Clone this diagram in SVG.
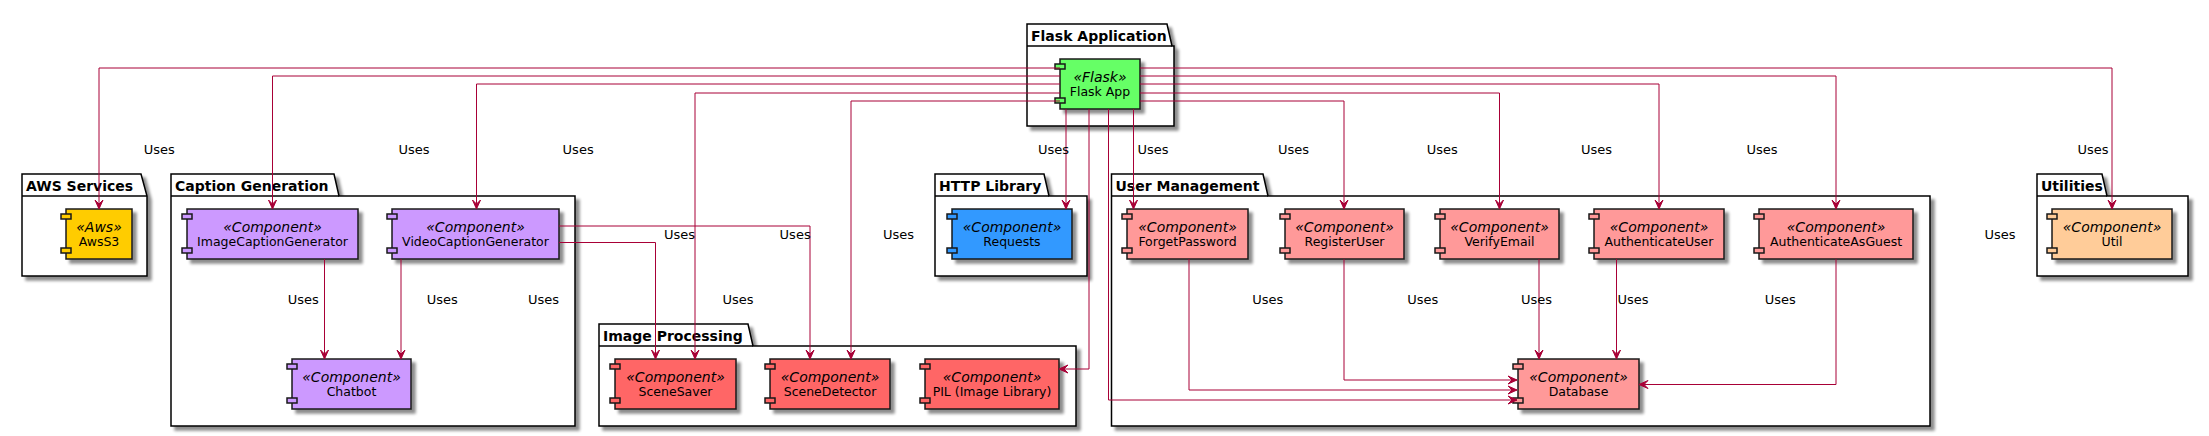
<svg xmlns="http://www.w3.org/2000/svg" width="2209" height="436" viewBox="0 0 2209 436">
<style>
text{font-family:"DejaVu Sans","Liberation Sans",sans-serif;fill:#000}
.pk{fill:#FFFFFF;stroke:#000;stroke-width:1.5}
.pt{font-size:14px;font-weight:bold}
.cb{stroke:#181818;stroke-width:1.5}
.port{stroke:#181818;stroke-width:1.5}
.st{font-size:14px;font-style:italic}
.nm{font-size:12.5px}
.lb{font-size:13px}
.cn path{fill:none;stroke:#A80036;stroke-width:1}
.g{fill:#66FF66}.y{fill:#FFCC00}.v{fill:#CC99FF}.b{fill:#3399FF}.r{fill:#FF6666}.p{fill:#FF9999}.o{fill:#FFCC99}
</style>
<defs>
<filter id="sh" x="-20%" y="-20%" width="150%" height="160%">
<feGaussianBlur in="SourceAlpha" stdDeviation="1.8" result="bl"/>
<feOffset in="bl" dx="4" dy="4" result="of"/>
<feComponentTransfer in="of" result="sd"><feFuncA type="linear" slope="0.45"/></feComponentTransfer>
<feMerge><feMergeNode in="sd"/><feMergeNode in="SourceGraphic"/></feMerge>
</filter>
<marker id="ah" viewBox="-10 -5 11 10" refX="0" refY="0" markerWidth="11" markerHeight="10" orient="auto" markerUnits="userSpaceOnUse">
<path d="M0,0 L-9,-4 L-5,0 L-9,4 Z" fill="#A80036" stroke="#A80036" stroke-width="1"/>
</marker>
</defs>
<rect width="2209" height="436" fill="#FFFFFF"/>

<g id="pkg-flask">
<path class="pk" filter="url(#sh)" d="M1027,24 L1167,24 L1172,46 L1174,46 L1174,126 L1027,126 Z"/>
<line x1="1027" y1="46" x2="1172" y2="46" stroke="#000" stroke-width="1.5"/>
<text class="pt" x="1031" y="41">Flask Application</text>
</g>
<g id="pkg-aws">
<path class="pk" filter="url(#sh)" d="M22,174 L141,174 L147,196 L147,196 L147,276 L22,276 Z"/>
<line x1="22" y1="196" x2="147" y2="196" stroke="#000" stroke-width="1.5"/>
<text class="pt" x="26" y="191">AWS Services</text>
</g>
<g id="pkg-caption">
<path class="pk" filter="url(#sh)" d="M171,174 L334,174 L339,196 L575,196 L575,426 L171,426 Z"/>
<line x1="171" y1="196" x2="339" y2="196" stroke="#000" stroke-width="1.5"/>
<text class="pt" x="175" y="191">Caption Generation</text>
</g>
<g id="pkg-image">
<path class="pk" filter="url(#sh)" d="M599,324 L748,324 L753,346 L1076,346 L1076,426 L599,426 Z"/>
<line x1="599" y1="346" x2="753" y2="346" stroke="#000" stroke-width="1.5"/>
<text class="pt" x="603" y="341">Image Processing</text>
</g>
<g id="pkg-http">
<path class="pk" filter="url(#sh)" d="M935,174 L1044,174 L1049,196 L1087,196 L1087,276 L935,276 Z"/>
<line x1="935" y1="196" x2="1049" y2="196" stroke="#000" stroke-width="1.5"/>
<text class="pt" x="939" y="191">HTTP Library</text>
</g>
<g id="pkg-user">
<path class="pk" filter="url(#sh)" d="M1111.5,174 L1263,174 L1268,196 L1930,196 L1930,426 L1111.5,426 Z"/>
<line x1="1111.5" y1="196" x2="1268" y2="196" stroke="#000" stroke-width="1.5"/>
<text class="pt" x="1115.5" y="191">User Management</text>
</g>
<g id="pkg-util">
<path class="pk" filter="url(#sh)" d="M2037,174 L2102,174 L2107,196 L2188,196 L2188,276 L2037,276 Z"/>
<line x1="2037" y1="196" x2="2107" y2="196" stroke="#000" stroke-width="1.5"/>
<text class="pt" x="2041" y="191">Utilities</text>
</g>

<g id="flaskapp">
<rect class="cb g" filter="url(#sh)" x="1060" y="59" width="80" height="50"/>
<rect class="port g" x="1055" y="64" width="10" height="5"/>
<rect class="port g" x="1055" y="98" width="10" height="5"/>
<text class="st" x="1100" y="81.5" text-anchor="middle">«Flask»</text>
<text class="nm" x="1100" y="96" text-anchor="middle">Flask App</text>
</g>
<g id="awss3">
<rect class="cb y" filter="url(#sh)" x="66" y="209" width="66" height="50"/>
<rect class="port y" x="61" y="214" width="10" height="5"/>
<rect class="port y" x="61" y="248" width="10" height="5"/>
<text class="st" x="99" y="231.5" text-anchor="middle">«Aws»</text>
<text class="nm" x="99" y="246" text-anchor="middle">AwsS3</text>
</g>
<g id="imagecaptiongenerator">
<rect class="cb v" filter="url(#sh)" x="187" y="209" width="171" height="50"/>
<rect class="port v" x="182" y="214" width="10" height="5"/>
<rect class="port v" x="182" y="248" width="10" height="5"/>
<text class="st" x="272.5" y="231.5" text-anchor="middle">«Component»</text>
<text class="nm" x="272.5" y="246" text-anchor="middle">ImageCaptionGenerator</text>
</g>
<g id="videocaptiongenerator">
<rect class="cb v" filter="url(#sh)" x="392" y="209" width="167" height="50"/>
<rect class="port v" x="387" y="214" width="10" height="5"/>
<rect class="port v" x="387" y="248" width="10" height="5"/>
<text class="st" x="475.5" y="231.5" text-anchor="middle">«Component»</text>
<text class="nm" x="475.5" y="246" text-anchor="middle">VideoCaptionGenerator</text>
</g>
<g id="chatbot">
<rect class="cb v" filter="url(#sh)" x="292" y="359" width="119" height="50"/>
<rect class="port v" x="287" y="364" width="10" height="5"/>
<rect class="port v" x="287" y="398" width="10" height="5"/>
<text class="st" x="351.5" y="381.5" text-anchor="middle">«Component»</text>
<text class="nm" x="351.5" y="396" text-anchor="middle">Chatbot</text>
</g>
<g id="scenesaver">
<rect class="cb r" filter="url(#sh)" x="615" y="359" width="121" height="50"/>
<rect class="port r" x="610" y="364" width="10" height="5"/>
<rect class="port r" x="610" y="398" width="10" height="5"/>
<text class="st" x="675.5" y="381.5" text-anchor="middle">«Component»</text>
<text class="nm" x="675.5" y="396" text-anchor="middle">SceneSaver</text>
</g>
<g id="scenedetector">
<rect class="cb r" filter="url(#sh)" x="770" y="359" width="120" height="50"/>
<rect class="port r" x="765" y="364" width="10" height="5"/>
<rect class="port r" x="765" y="398" width="10" height="5"/>
<text class="st" x="830" y="381.5" text-anchor="middle">«Component»</text>
<text class="nm" x="830" y="396" text-anchor="middle">SceneDetector</text>
</g>
<g id="pil">
<rect class="cb r" filter="url(#sh)" x="925" y="359" width="134" height="50"/>
<rect class="port r" x="920" y="364" width="10" height="5"/>
<rect class="port r" x="920" y="398" width="10" height="5"/>
<text class="st" x="992" y="381.5" text-anchor="middle">«Component»</text>
<text class="nm" x="992" y="396" text-anchor="middle">PIL (Image Library)</text>
</g>
<g id="requests">
<rect class="cb b" filter="url(#sh)" x="952" y="209" width="120" height="50"/>
<rect class="port b" x="947" y="214" width="10" height="5"/>
<rect class="port b" x="947" y="248" width="10" height="5"/>
<text class="st" x="1012" y="231.5" text-anchor="middle">«Component»</text>
<text class="nm" x="1012" y="246" text-anchor="middle">Requests</text>
</g>
<g id="forgetpassword">
<rect class="cb p" filter="url(#sh)" x="1127" y="209" width="121" height="50"/>
<rect class="port p" x="1122" y="214" width="10" height="5"/>
<rect class="port p" x="1122" y="248" width="10" height="5"/>
<text class="st" x="1187.5" y="231.5" text-anchor="middle">«Component»</text>
<text class="nm" x="1187.5" y="246" text-anchor="middle">ForgetPassword</text>
</g>
<g id="registeruser">
<rect class="cb p" filter="url(#sh)" x="1285" y="209" width="119" height="50"/>
<rect class="port p" x="1280" y="214" width="10" height="5"/>
<rect class="port p" x="1280" y="248" width="10" height="5"/>
<text class="st" x="1344.5" y="231.5" text-anchor="middle">«Component»</text>
<text class="nm" x="1344.5" y="246" text-anchor="middle">RegisterUser</text>
</g>
<g id="verifyemail">
<rect class="cb p" filter="url(#sh)" x="1440" y="209" width="119" height="50"/>
<rect class="port p" x="1435" y="214" width="10" height="5"/>
<rect class="port p" x="1435" y="248" width="10" height="5"/>
<text class="st" x="1499.5" y="231.5" text-anchor="middle">«Component»</text>
<text class="nm" x="1499.5" y="246" text-anchor="middle">VerifyEmail</text>
</g>
<g id="authenticateuser">
<rect class="cb p" filter="url(#sh)" x="1594" y="209" width="130" height="50"/>
<rect class="port p" x="1589" y="214" width="10" height="5"/>
<rect class="port p" x="1589" y="248" width="10" height="5"/>
<text class="st" x="1659" y="231.5" text-anchor="middle">«Component»</text>
<text class="nm" x="1659" y="246" text-anchor="middle">AuthenticateUser</text>
</g>
<g id="authenticateasguest">
<rect class="cb p" filter="url(#sh)" x="1759" y="209" width="154" height="50"/>
<rect class="port p" x="1754" y="214" width="10" height="5"/>
<rect class="port p" x="1754" y="248" width="10" height="5"/>
<text class="st" x="1836" y="231.5" text-anchor="middle">«Component»</text>
<text class="nm" x="1836" y="246" text-anchor="middle">AuthenticateAsGuest</text>
</g>
<g id="database">
<rect class="cb p" filter="url(#sh)" x="1518" y="359" width="121" height="50"/>
<rect class="port p" x="1513" y="364" width="10" height="5"/>
<rect class="port p" x="1513" y="398" width="10" height="5"/>
<text class="st" x="1578.5" y="381.5" text-anchor="middle">«Component»</text>
<text class="nm" x="1578.5" y="396" text-anchor="middle">Database</text>
</g>
<g id="util">
<rect class="cb o" filter="url(#sh)" x="2052" y="209" width="120" height="50"/>
<rect class="port o" x="2047" y="214" width="10" height="5"/>
<rect class="port o" x="2047" y="248" width="10" height="5"/>
<text class="st" x="2112" y="231.5" text-anchor="middle">«Component»</text>
<text class="nm" x="2112" y="246" text-anchor="middle">Util</text>
</g>

<g id="connectors" class="cn">
<path marker-end="url(#ah)" d="M1060,68 H99 V209"/>
<path marker-end="url(#ah)" d="M1060,76 H272.5 V209"/>
<path marker-end="url(#ah)" d="M1060,84 H476.5 V209"/>
<path marker-end="url(#ah)" d="M1060,93 H695 V359"/>
<path marker-end="url(#ah)" d="M1060,101 H851 V359"/>
<path marker-end="url(#ah)" d="M1066,109 V209"/>
<path marker-end="url(#ah)" d="M1089,109 V369 H1059"/>
<path marker-end="url(#ah)" d="M1108.5,109 V400 H1517"/>
<path marker-end="url(#ah)" d="M1133.5,109 V209"/>
<path marker-end="url(#ah)" d="M1140,101 H1344 V209"/>
<path marker-end="url(#ah)" d="M1140,93 H1499.5 V209"/>
<path marker-end="url(#ah)" d="M1140,84 H1659 V209"/>
<path marker-end="url(#ah)" d="M1140,76 H1836 V209"/>
<path marker-end="url(#ah)" d="M1140,68 H2112 V209"/>
<path marker-end="url(#ah)" d="M324.5,259 V359"/>
<path marker-end="url(#ah)" d="M401,259 V359"/>
<path marker-end="url(#ah)" d="M559,226 H810 V359"/>
<path marker-end="url(#ah)" d="M559,242.5 H655.5 V359"/>
<path marker-end="url(#ah)" d="M1189,259 V390 H1517"/>
<path marker-end="url(#ah)" d="M1344,259 V380 H1517"/>
<path marker-end="url(#ah)" d="M1539,259 V359"/>
<path marker-end="url(#ah)" d="M1616.5,259 V359"/>
<path marker-end="url(#ah)" d="M1836,259 V384.5 H1639"/>
<text class="lb" x="143.8" y="154">Uses</text>
<text class="lb" x="398.5" y="154">Uses</text>
<text class="lb" x="562.6" y="154">Uses</text>
<text class="lb" x="1038" y="154">Uses</text>
<text class="lb" x="1137.5" y="154">Uses</text>
<text class="lb" x="1278" y="154">Uses</text>
<text class="lb" x="1426.8" y="154">Uses</text>
<text class="lb" x="1581" y="154">Uses</text>
<text class="lb" x="1746.5" y="154">Uses</text>
<text class="lb" x="2077.5" y="154">Uses</text>
<text class="lb" x="664" y="239">Uses</text>
<text class="lb" x="779.6" y="239">Uses</text>
<text class="lb" x="883" y="239">Uses</text>
<text class="lb" x="1984.4" y="239">Uses</text>
<text class="lb" x="287.8" y="304">Uses</text>
<text class="lb" x="426.7" y="304">Uses</text>
<text class="lb" x="528" y="304">Uses</text>
<text class="lb" x="722.5" y="304">Uses</text>
<text class="lb" x="1252.3" y="304">Uses</text>
<text class="lb" x="1407.3" y="304">Uses</text>
<text class="lb" x="1521" y="304">Uses</text>
<text class="lb" x="1617.4" y="304">Uses</text>
<text class="lb" x="1764.8" y="304">Uses</text>
</g>
</svg>
